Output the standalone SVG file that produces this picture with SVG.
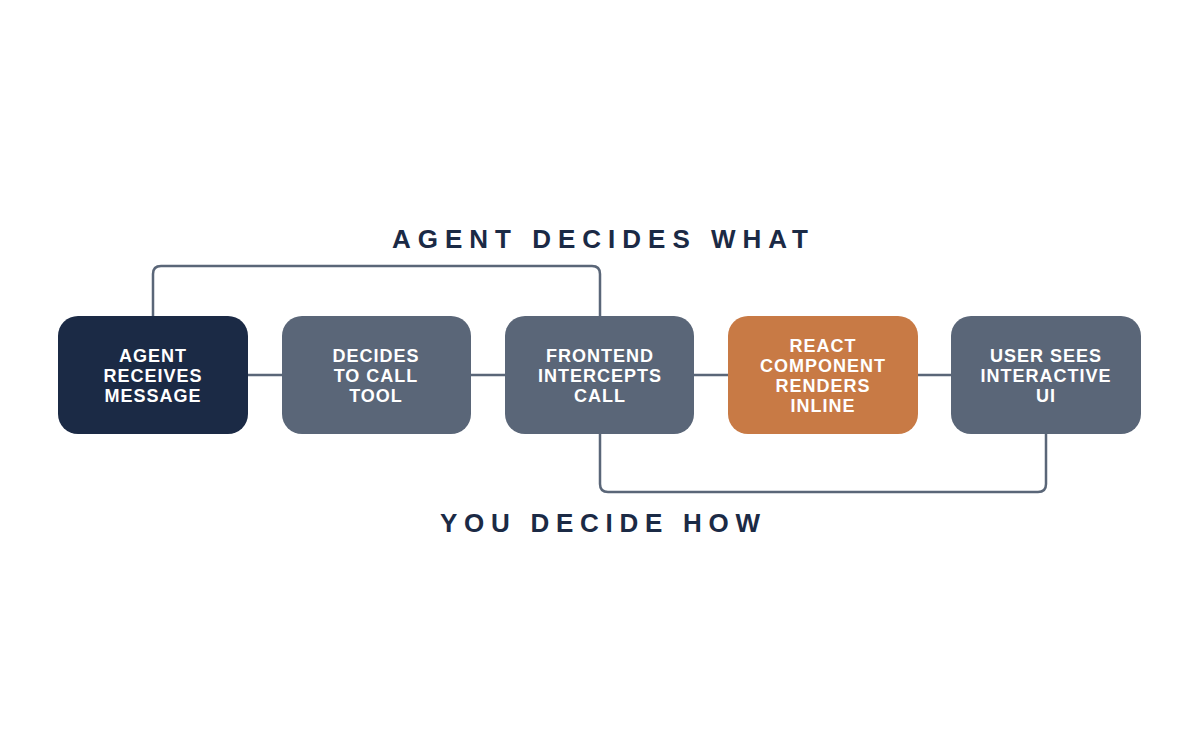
<svg xmlns="http://www.w3.org/2000/svg" width="1200" height="750" viewBox="0 0 1200 750">
<style>
.t{font-family:"Liberation Sans",Arial,sans-serif;font-size:18px;font-weight:bold;fill:#ffffff;text-anchor:middle;letter-spacing:1px}
.h{font-family:"Liberation Sans",Arial,sans-serif;font-size:26px;font-weight:bold;fill:#1b2a45;text-anchor:middle}
.c{fill:none;stroke:#5a6678;stroke-width:2.5}
</style>
<rect width="1200" height="750" fill="#ffffff"/>
<g id="connectors">
<path class="c" d="M248 375H282M471 375H505M694 375H728M918 375H951"/>
<path class="c" d="M153 316V274Q153 266 161 266H592Q600 266 600 274V316"/>
<path class="c" d="M600 434V484Q600 492 608 492H1038Q1046 492 1046 484V434"/>
</g>
<text class="h" x="600" y="248" textLength="416" lengthAdjust="spacing">AGENT DECIDES WHAT</text>
<text class="h" x="600" y="532" textLength="320" lengthAdjust="spacing">YOU DECIDE HOW</text>
<g id="n1"><rect x="58" y="316" width="190" height="118" rx="20" fill="#1b2a45"/>
<text class="t" x="153" y="362">AGENT</text><text class="t" x="153" y="382">RECEIVES</text><text class="t" x="153" y="402">MESSAGE</text></g>
<g id="n2"><rect x="282" y="316" width="189" height="118" rx="20" fill="#5a6678"/>
<text class="t" x="376" y="362">DECIDES</text><text class="t" x="376" y="382">TO CALL</text><text class="t" x="376" y="402">TOOL</text></g>
<g id="n3"><rect x="505" y="316" width="189" height="118" rx="20" fill="#5a6678"/>
<text class="t" x="600" y="362">FRONTEND</text><text class="t" x="600" y="382">INTERCEPTS</text><text class="t" x="600" y="402">CALL</text></g>
<g id="n4"><rect x="728" y="316" width="190" height="118" rx="20" fill="#c87a45"/>
<text class="t" x="823" y="352">REACT</text><text class="t" x="823" y="372">COMPONENT</text><text class="t" x="823" y="392">RENDERS</text><text class="t" x="823" y="412">INLINE</text></g>
<g id="n5"><rect x="951" y="316" width="190" height="118" rx="20" fill="#5a6678"/>
<text class="t" x="1046" y="362">USER SEES</text><text class="t" x="1046" y="382">INTERACTIVE</text><text class="t" x="1046" y="402">UI</text></g>
</svg>
